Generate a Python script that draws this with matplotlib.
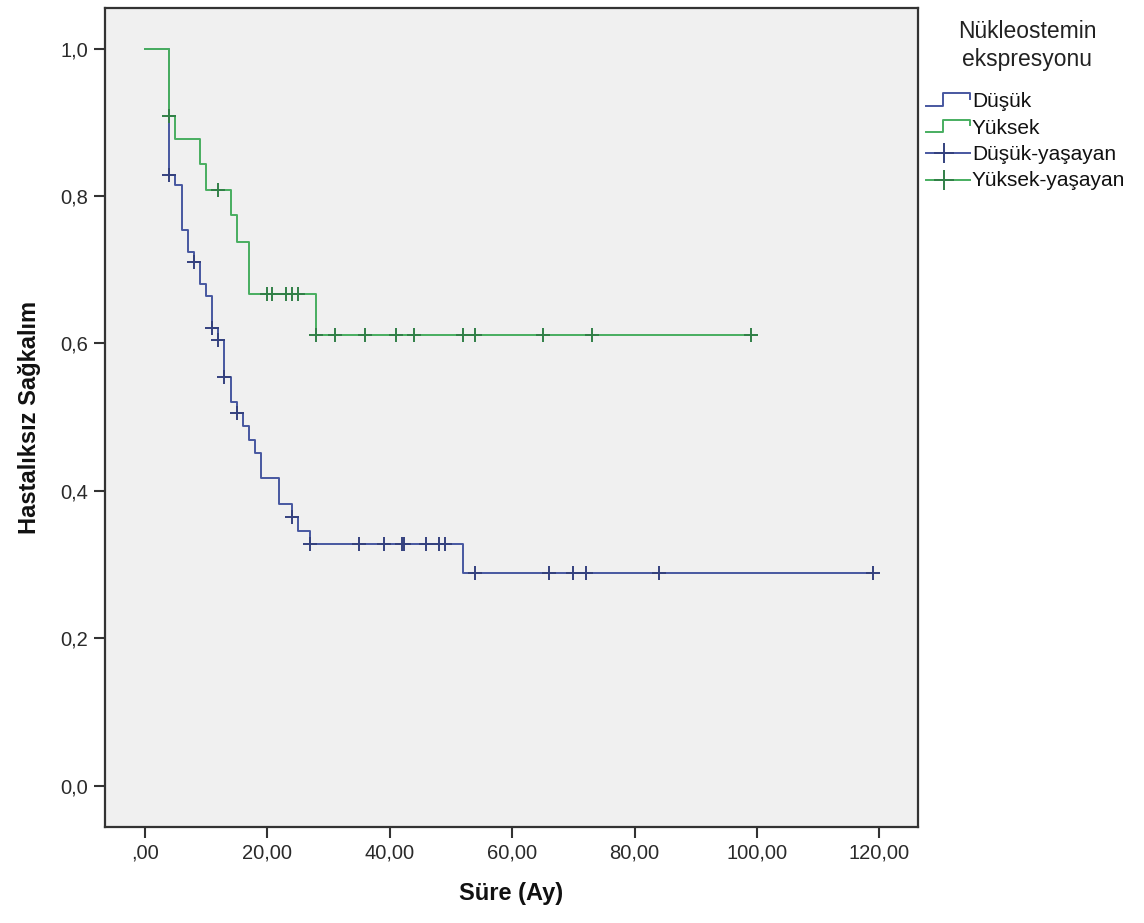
import numpy as np
import matplotlib
matplotlib.use("Agg")
import matplotlib.pyplot as plt
from matplotlib.lines import Line2D
from matplotlib.legend_handler import HandlerBase

# ---------------- data ----------------
dusuk_times = [0, 4, 5, 6, 7, 8, 9, 10, 11, 12, 13, 14, 15, 16, 17, 18, 19, 22, 24, 25, 27, 52, 119]
dusuk_surv = [1.0, 0.829, 0.815, 0.754, 0.724, 0.710, 0.680, 0.664, 0.621, 0.604, 0.555,
              0.521, 0.506, 0.488, 0.469, 0.452, 0.417, 0.382, 0.365, 0.346, 0.328, 0.288, 0.288]
dusuk_censored = [4, 8, 11, 12, 13, 15, 24, 27, 35, 39, 42, 42.3, 46, 48, 49, 54, 66, 70, 72, 84, 119]

yuksek_times = [0, 4, 5, 9, 10, 14, 15, 17, 28, 100]
yuksek_surv = [1.0, 0.909, 0.877, 0.843, 0.808, 0.774, 0.737, 0.667, 0.612, 0.612]
yuksek_censored = [4, 12, 20, 20.7, 23, 24, 25, 28, 31, 36, 41, 44, 52, 54, 65, 73, 99]

series_labels = ["Düşük", "Yüksek", "Düşük-yaşayan", "Yüksek-yaşayan"]
legend_title = "Nükleostemin\nekspresyonu"
x_label = "Süre (Ay)"
y_label = "Hastalıksız Sağkalım"
x_ticks = [0, 20, 40, 60, 80, 100, 120]
x_tick_labels = [",00", "20,00", "40,00", "60,00", "80,00", "100,00", "120,00"]
y_ticks = [0.0, 0.2, 0.4, 0.6, 0.8, 1.0]
y_tick_labels = ["0,0", "0,2", "0,4", "0,6", "0,8", "1,0"]

# ---------------- styling ----------------
plt.rcParams['font.family'] = ['Liberation Sans', 'DejaVu Sans']
BLUE = "#4757A0"
BLUE_DARK = "#34417E"
GREEN = "#48AE60"
GREEN_DARK = "#317F47"
FRAME = "#333333"

W, H = 1144, 923
fig = plt.figure(figsize=(W / 100, H / 100), dpi=100)
fig.patch.set_facecolor("white")
ax = fig.add_axes([105 / W, 1 - 827 / H, (918 - 105) / W, (827 - 8) / H])
ax.set_facecolor("#F0F0F0")


def step_value(times, surv, t):
    idx = np.searchsorted(np.asarray(times), t, side="right") - 1
    return np.asarray(surv)[idx]


LW = 1.4
ax.step(dusuk_times, dusuk_surv, where="post", color=BLUE, lw=LW, zorder=3)
ax.step(yuksek_times, yuksek_surv, where="post", color=GREEN, lw=LW, zorder=4)
ax.plot(dusuk_censored, step_value(dusuk_times, dusuk_surv, dusuk_censored),
        ls="none", marker="+", ms=10, mew=1.4, color=BLUE_DARK, zorder=5)
ax.plot(yuksek_censored, step_value(yuksek_times, yuksek_surv, yuksek_censored),
        ls="none", marker="+", ms=10, mew=1.4, color=GREEN_DARK, zorder=6)

ax.set_xlim(-6.5, 126.3)
ax.set_ylim(-0.056, 1.055)
ax.set_xticks(x_ticks)
ax.set_xticklabels(x_tick_labels)
ax.set_yticks(y_ticks)
ax.set_yticklabels(y_tick_labels)
ax.tick_params(axis="both", direction="out", length=8, width=1.5, color=FRAME,
               labelsize=14.5, labelcolor="#2a2a2a", pad=4)
for sp in ax.spines.values():
    sp.set_color(FRAME)
    sp.set_linewidth(1.6)

ax.set_xlabel(x_label, fontsize=17, fontweight="bold", labelpad=14, color="#111111")
ax.set_ylabel(y_label, fontsize=17, fontweight="bold", labelpad=14, color="#111111")


# ---------------- legend with SPSS-like icons ----------------
class StepHandler(HandlerBase):
    def create_artists(self, legend, orig_handle, xdescent, ydescent, width, height, fontsize, trans):
        w, h = width, height
        xs = np.array([0, 0.38 * w, 0.38 * w, w, w]) - xdescent
        ys = np.array([0.1 * h, 0.1 * h, 0.95 * h, 0.95 * h, 0.55 * h]) - ydescent
        ln = Line2D(xs, ys, color=orig_handle.get_color(), lw=1.4)
        ln.set_transform(trans)
        return [ln]


class CensorHandler(HandlerBase):
    def create_artists(self, legend, orig_handle, xdescent, ydescent, width, height, fontsize, trans):
        w, h = width, height
        ln = Line2D(np.array([0, w]) - xdescent, np.array([0.45 * h, 0.45 * h]) - ydescent,
                    color=orig_handle.get_color(), lw=1.4)
        mk = Line2D([0.42 * w - xdescent], [0.45 * h - ydescent], ls="none", marker="+",
                    ms=14, mew=1.4, color=orig_handle.get_markeredgecolor())
        ln.set_transform(trans)
        mk.set_transform(trans)
        return [ln, mk]


fig.text(1027 / W, 1 - 20 / H, legend_title, ha="center", va="top", fontsize=16.5,
         linespacing=1.3, color="#222222")

h_d = Line2D([], [], color=BLUE)
h_y = Line2D([], [], color=GREEN)
h_dc = Line2D([], [], color=BLUE, marker="+", mec=BLUE_DARK)
h_yc = Line2D([], [], color=GREEN, marker="+", mec=GREEN_DARK)
leg = fig.legend([h_d, h_y, h_dc, h_yc], series_labels,
                 handler_map={h_d: StepHandler(), h_y: StepHandler(),
                              h_dc: CensorHandler(), h_yc: CensorHandler()},
                 loc="upper left", bbox_to_anchor=(926 / W, 1 - 92 / H),
                 frameon=False, fontsize=15,
                 handlelength=2.1, handleheight=0.7, handletextpad=0.1,
                 labelspacing=0.36, borderpad=0, borderaxespad=0)
for t in leg.get_texts():
    t.set_color("#111111")

fig.savefig("out.png", dpi=100, facecolor="white")
